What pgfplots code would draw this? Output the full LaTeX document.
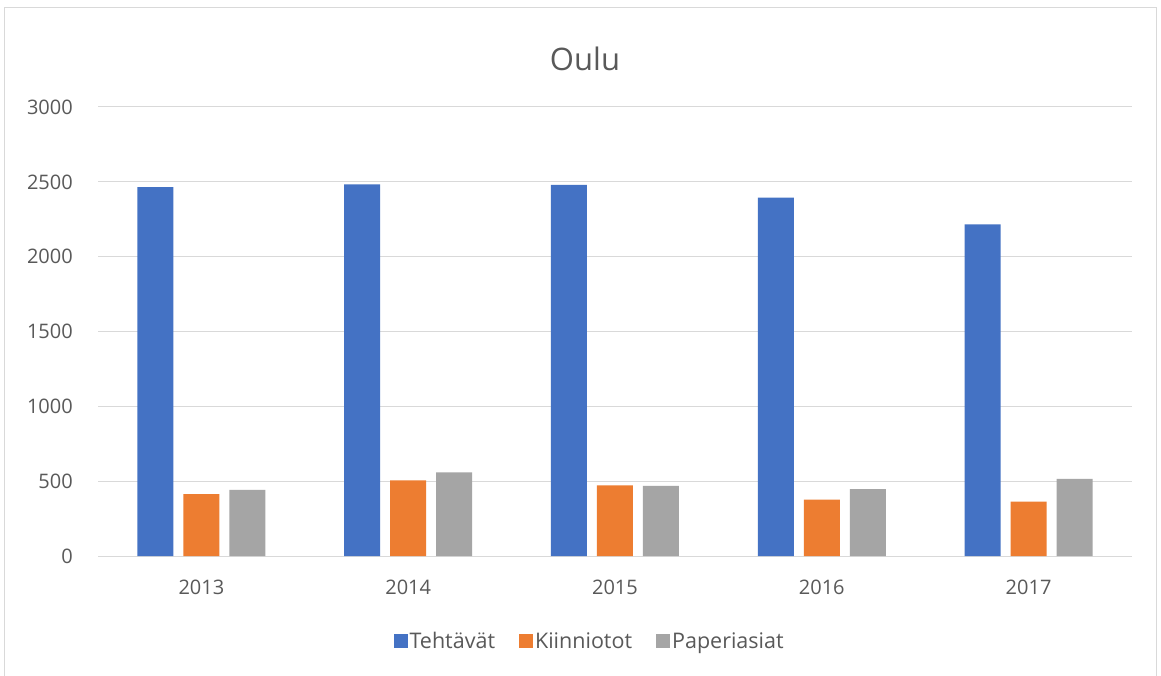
\documentclass[border=0pt]{standalone}
\usepackage{pgfplots}
\pgfplotsset{compat=1.18}
\usepackage{fontspec}
\setmainfont{Open Sans}
\definecolor{cblue}{HTML}{4472C4}
\definecolor{corange}{HTML}{ED7D31}
\definecolor{cgray}{HTML}{A5A5A5}
\definecolor{ctext}{HTML}{595959}
\definecolor{cgrid}{HTML}{D9D9D9}
\begin{document}
\begin{tikzpicture}[x=1pt,y=1pt]
\useasboundingbox (0,0) rectangle (1161,675);
\fill[white] (0,0) rectangle (1161,675);
\draw[cgrid, line width=1pt] (4.5,-5) rectangle (1156.5,667.5);
\node[text=ctext, font=\fontsize{31}{38}\selectfont] at (585,616) {Oulu};
\begin{axis}[
  at={(98pt,119pt)}, anchor=south west,
  scale only axis, width=1034pt, height=449pt,
  ybar=10pt, bar width=36pt,
  xmin=-0.5, xmax=4.5, ymin=0, ymax=3000,
  xtick={0,1,2,3,4}, xticklabels={2013,2014,2015,2016,2017},
  ytick={0,500,1000,1500,2000,2500,3000},
  /pgf/number format/assume math mode=true,
  /pgf/number format/1000 sep={},
  major tick length=0pt,
  axis x line*=bottom, axis y line*=left,
  x axis line style={draw=cgrid, line width=1pt, -},
  y axis line style={draw=none},
  ymajorgrids, grid style={draw=cgrid, line width=1pt},
  ticklabel style={text=ctext, font=\fontsize{20}{24}\selectfont, inner sep=0pt},
  xticklabel style={anchor=center, text height=14.5pt, text depth=0pt},
  yticklabel style={text height=14.5pt, text depth=0pt},
  yticklabel shift=25pt, xticklabel shift=31pt,
  legend style={at={(0.4755,0)}, yshift=-85pt, anchor=center, draw=none, fill=none,
    legend columns=-1, text=ctext, font=\fontsize{21.5}{26}\selectfont,
    /tikz/every even column/.append style={column sep=22pt},
    /tikz/every odd column/.append style={column sep=0pt}},
  legend image code/.code={\fill[#1,draw=none] (0pt,-7pt) rectangle (14pt,7pt);},
]
\addplot[fill=cblue, draw=none] coordinates {(0,2465) (1,2483) (2,2479) (3,2395) (4,2216)};
\addplot[fill=corange, draw=none] coordinates {(0,414) (1,505) (2,472) (3,376) (4,363)};
\addplot[fill=cgray, draw=none] coordinates {(0,441) (1,559) (2,469) (3,447) (4,516)};
\legend{Tehtävät, Kiinniotot, Paperiasiat}
\end{axis}
\end{tikzpicture}
\end{document}
